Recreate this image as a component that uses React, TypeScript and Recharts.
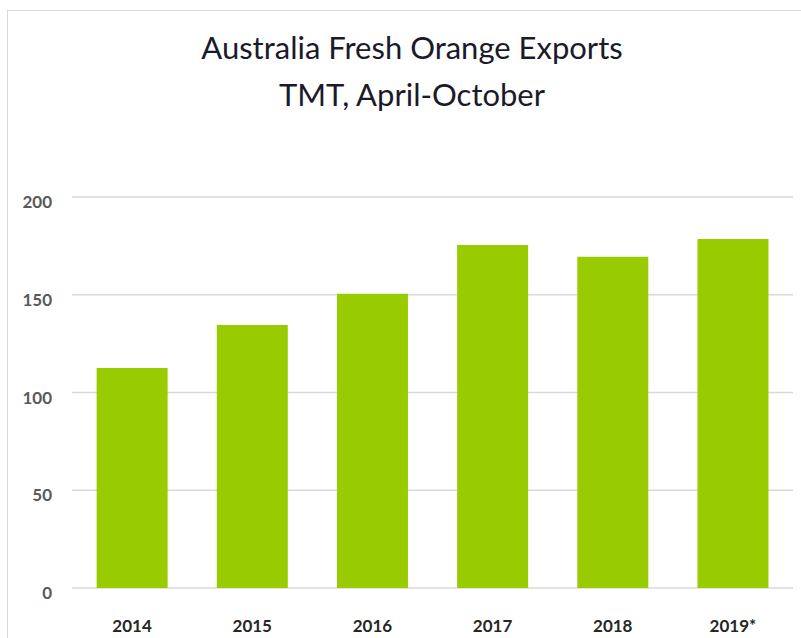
import { BarChart, Bar, CartesianGrid, XAxis, YAxis } from "recharts";

const years = ["2014", "2015", "2016", "2017", "2018", "2019*"];
const exports = [112.5, 134.5, 150.5, 175.5, 169.5, 178.5];
const yTicks = [0, 50, 100, 150, 200];

const data = years.map((year, i) => ({ year, value: exports[i] }));

const font = "Lato, 'Open Sans', sans-serif";

// y labels sit a little under their gridlines in the original
const YTick = ({ x, y, payload }: any) => (
  <text x={x} y={y + 5} dy="0.355em" textAnchor="end" fill="#595959" fontSize={17} fontWeight={700} fontFamily={font}>
    {payload.value}
  </text>
);

const App = () => (
  <div style={{ position: "absolute", left: 0, top: 0, width: 801, height: 638, overflow: "hidden", background: "#fff" }}>
    <div
      style={{
        position: "absolute",
        left: 7,
        top: 10,
        width: 820,
        height: 660,
        border: "1.5px solid #d9d9d9",
        boxSizing: "border-box",
      }}
    />
    <div
      style={{
        position: "absolute",
        left: 0,
        top: 24,
        width: 824,
        textAlign: "center",
        fontFamily: font,
        fontSize: 31,
        lineHeight: "47px",
        color: "#1a1a2a",
      }}
    >
      <div>Australia Fresh Orange Exports</div>
      <div>TMT, April-October</div>
    </div>
    <div style={{ position: "absolute", left: 0, top: 0 }}>
      <BarChart width={801} height={638} data={data} margin={{ top: 197, right: 8, bottom: 20, left: 32 }} barCategoryGap="20.5%">
        <CartesianGrid horizontal vertical={false} stroke="#d9d9d9" strokeWidth={1.5} />
        <XAxis
          dataKey="year"
          axisLine={false}
          tickLine={false}
          height={30}
          tickMargin={26}
          tick={{ fill: "#262626", fontSize: 17, fontWeight: 700, fontFamily: font }}
        />
        <YAxis
          domain={[0, 200]}
          ticks={yTicks}
          width={40}
          axisLine={false}
          tickLine={false}
          tickMargin={14}
          tick={YTick}
        />
        <Bar dataKey="value" fill="#99cc00" isAnimationActive={false} />
      </BarChart>
    </div>
  </div>
);

export default App;
